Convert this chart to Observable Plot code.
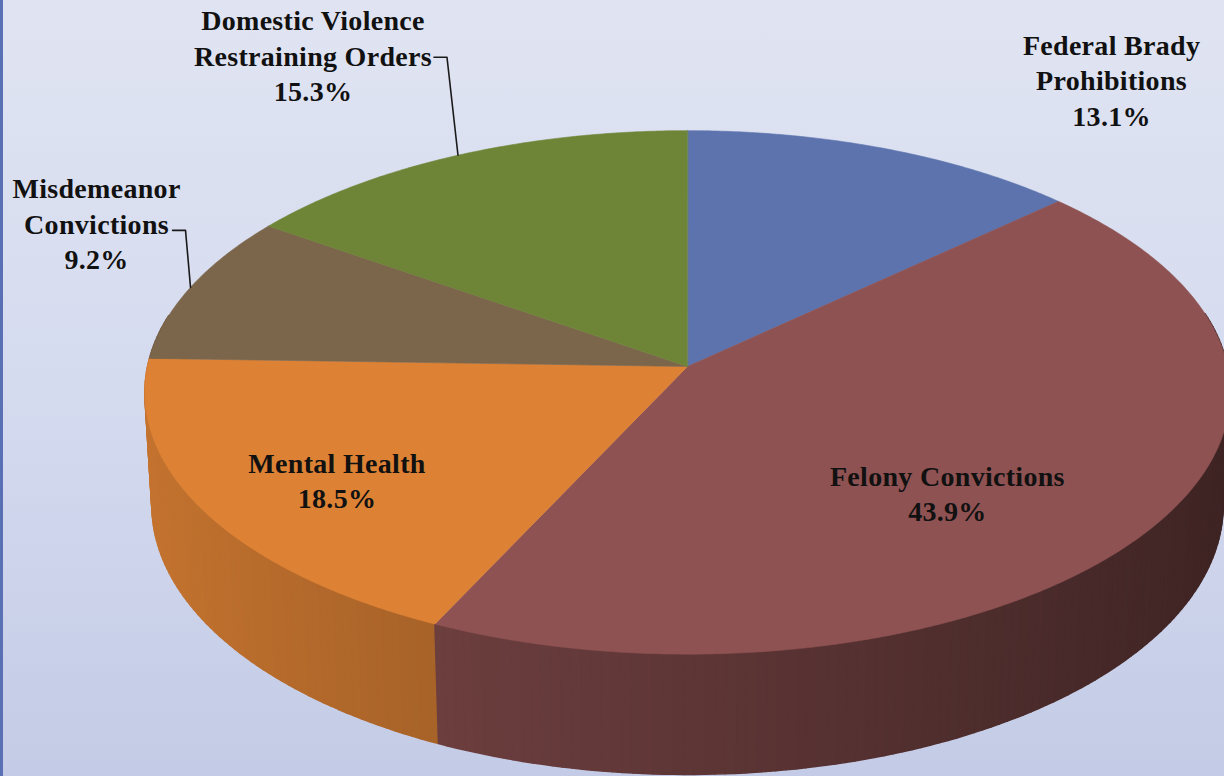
<!DOCTYPE html>
<html>
<head>
<meta charset="utf-8">
<script src="https://cdn.jsdelivr.net/npm/d3@7"></script>
<script src="https://cdn.jsdelivr.net/npm/@observablehq/plot@0.6"></script>
<style>
  html, body { margin: 0; padding: 0; overflow: hidden; }
  #chart {
    width: 1224px; height: 776px; box-sizing: border-box;
    border-left: 3px solid #5a70b4;
    background: linear-gradient(to bottom, #e0e4f2 0%, #d5dbef 50%, #c3cbe6 100%);
  }
  #chart svg text { letter-spacing: 0.3px; }
</style>
</head>
<body>
<div id="chart"></div>
<script>
// ---- data ----
const categories = [
  "Federal Brady\nProhibitions",
  "Felony Convictions",
  "Mental Health",
  "Misdemeanor\nConvictions",
  "Domestic Violence\nRestraining Orders"
];
const shares = [13.1, 43.9, 18.5, 9.2, 15.3];
const colors = ["#5d73ad", "#8f5252", "#dd8235", "#7c664b", "#6e8538"];

// ---- layout (label offsets from slice rim point, px) ----
const labelOffsets = [[226, -70], [-203, -37], [135, -30], [-94, -65], [-145, -101]];
const leaderElbows = [null, null, null, [89, 8], [134, 3]]; // relative to label center

// ---- 3D perspective projection of a unit disk ----
const D = 8.86, cphi = 0.877, sphi = 0.480, S = 4784, H = 0.24;
function proj(theta, r, z) {
  const X = r * Math.sin(theta), Y = -r * Math.cos(theta);
  const depth = D - Y * cphi - z * sphi;
  return [S * X / depth, -S * (z * cphi - Y * sphi) / depth];
}

const total = d3.sum(shares);
let acc = 0;
const slices = shares.map((v, i) => {
  const a0 = acc / total * 2 * Math.PI;
  acc += v;
  const a1 = acc / total * 2 * Math.PI;
  return {i, a0, a1, mid: (a0 + a1) / 2, color: colors[i], label: categories[i], value: v};
});

// side wall quads
const sideQuads = [];
slices.forEach(s => {
  const n = Math.max(2, Math.ceil((s.a1 - s.a0) / (Math.PI / 180)));
  for (let k = 0; k < n; k++) {
    const ta = s.a0 + (s.a1 - s.a0) * k / n;
    const tb = s.a0 + (s.a1 - s.a0) * (k + 1) / n;
    const tm = (ta + tb) / 2;
    if (-Math.cos(tm) < -0.2) continue;
    const f = 0.66 - 0.23 * Math.sin(tm);
    const c = d3.rgb(s.color);
    const col = d3.rgb(c.r * f, c.g * f, c.b * f).formatHex();
    const pts = [proj(ta, 1, 0), proj(tb, 1, 0), proj(tb, 1, -H), proj(ta, 1, -H)];
    sideQuads.push({depthKey: -Math.cos(tm), pts, col});
  }
});
sideQuads.sort((a, b) => a.depthKey - b.depthKey);
const sideRows = sideQuads.flatMap((q, id) => q.pts.map(p => ({id, x: p[0], y: p[1], col: q.col})));

// top faces
const topRows = slices.flatMap(s => {
  const n = Math.ceil((s.a1 - s.a0) / (Math.PI / 360));
  const rows = [{id: s.i, x: 0, y: 0, col: s.color}];
  for (let k = 0; k <= n; k++) {
    const t = s.a0 + (s.a1 - s.a0) * k / n;
    const p = proj(t, 1, 0);
    rows.push({id: s.i, x: p[0], y: p[1], col: s.color});
  }
  return rows;
});

// labels
const labelRows = slices.map(s => {
  const rim = proj(s.mid, 1, 0);
  const o = labelOffsets[s.i];
  return {x: rim[0] + o[0], y: rim[1] + o[1], rim, text: s.label + "\n" + s.value.toFixed(1) + "%", i: s.i};
});
const leaderRows = labelRows.filter(l => leaderElbows[l.i]).flatMap(l => {
  const e = leaderElbows[l.i];
  return [
    {id: l.i, x: l.rim[0], y: l.rim[1]},
    {id: l.i, x: l.x + e[0], y: l.y + e[1]},
    {id: l.i, x: l.x + e[0] - 13, y: l.y + e[1]}
  ];
});

const cx = 684, cy = 366, W = 1221, Hh = 776;
const plot = Plot.plot({
  width: W, height: Hh, margin: 0,
  style: {background: "transparent", overflow: "visible"},
  x: {domain: [-cx, W - cx], range: [0, W], axis: null},
  y: {domain: [-cy, Hh - cy], range: [0, Hh], axis: null},
  color: {type: "identity"},
  marks: [
    Plot.line(sideRows, {x: "x", y: "y", z: "id", fill: "col", stroke: "col", strokeWidth: 1.6, curve: "linear-closed"}),
    Plot.line(topRows, {x: "x", y: "y", z: "id", fill: "col", stroke: "col", strokeWidth: 0.6, curve: "linear-closed"}),
    Plot.line(leaderRows, {x: "x", y: "y", z: "id", stroke: "#1a1a1a", strokeWidth: 1.6}),
    Plot.text(labelRows, {x: "x", y: "y", text: "text", fontSize: 28, fontWeight: "bold",
      fontFamily: "'Liberation Serif', serif", lineHeight: 1.27, fill: "#111"})
  ]
});
document.getElementById("chart").appendChild(plot);
</script>
</body>
</html>
